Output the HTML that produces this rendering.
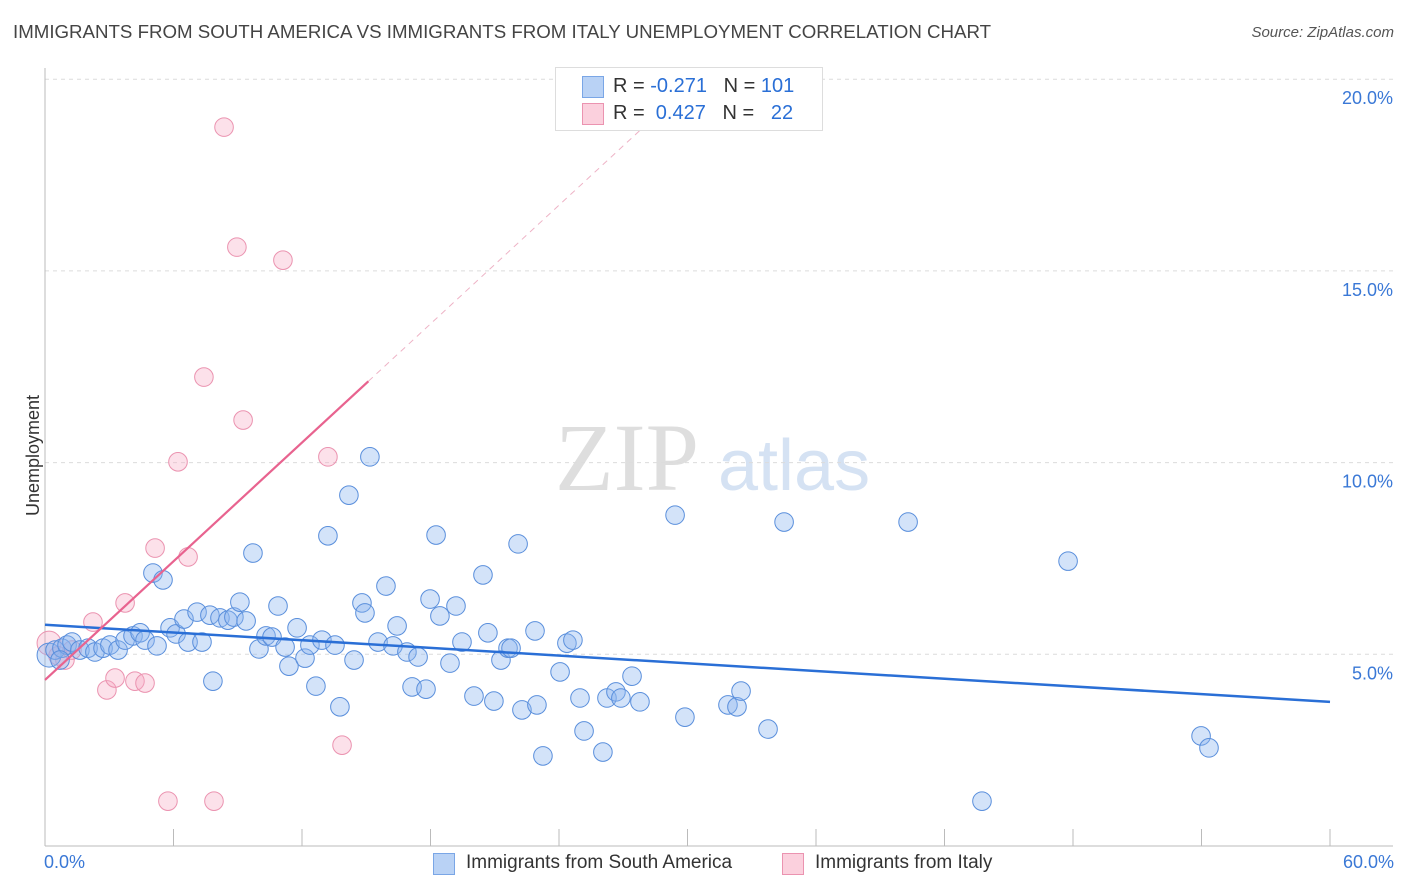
<!DOCTYPE html>
<html><head><meta charset="utf-8"><style>
body{margin:0;background:#fff;font-family:"Liberation Sans",sans-serif;}
#wrap{position:relative;width:1406px;height:892px;overflow:hidden;}
.t{position:absolute;white-space:nowrap;}
</style></head><body>
<div id="wrap">
<div class="t" style="left:13px;top:21px;font-size:18.7px;color:#444;">IMMIGRANTS FROM SOUTH AMERICA VS IMMIGRANTS FROM ITALY UNEMPLOYMENT CORRELATION CHART</div>
<div class="t" style="right:12px;top:24px;font-size:15px;color:#555;font-style:italic;">Source: ZipAtlas.com</div>
<svg id="plot" width="1406" height="892" style="position:absolute;left:0;top:0"></svg>
</div>
<script>
const blueX=[0.19,0.47,0.79,1.03,1.26,0.70,1.63,2.01,2.33,2.71,3.03,3.41,3.74,4.11,4.44,4.67,5.04,5.51,5.23,5.84,6.12,6.49,6.68,7.10,7.33,7.70,8.17,8.54,8.82,9.10,9.39,9.71,7.84,9.99,10.32,10.60,10.88,11.21,11.39,11.77,12.14,12.37,12.65,12.93,13.21,13.54,13.77,14.19,14.43,14.80,14.94,15.17,15.55,15.92,16.25,16.44,16.90,17.14,17.42,17.79,17.98,18.26,18.44,18.91,19.19,19.47,20.03,20.45,20.68,20.96,21.29,21.62,21.76,22.09,22.27,22.88,22.97,23.25,24.05,24.37,24.65,24.98,25.17,26.05,26.24,26.66,26.89,27.41,27.78,29.42,29.88,31.89,32.31,32.50,33.76,34.51,40.30,43.75,47.77,53.98,54.35];
const blueY=[4.98,5.11,5.16,5.24,5.32,4.85,5.11,5.16,5.06,5.16,5.24,5.11,5.37,5.48,5.56,5.37,7.12,6.94,5.22,5.69,5.53,5.92,5.32,6.10,5.32,6.02,5.95,5.89,5.97,6.36,5.87,7.64,4.30,5.14,5.48,5.45,6.26,5.19,4.69,5.69,4.90,5.24,4.17,5.37,8.09,5.24,3.63,9.15,4.85,6.34,6.08,10.15,5.32,6.78,5.22,5.74,5.06,4.15,4.93,4.09,6.44,8.11,6.00,4.77,6.26,5.32,3.91,7.07,5.56,3.78,4.85,5.16,5.16,7.88,3.55,5.61,3.68,2.35,4.54,5.29,5.37,3.86,3.00,2.45,3.86,4.02,3.86,4.43,3.76,8.63,3.36,3.68,3.63,4.04,3.05,8.45,8.45,1.17,7.43,2.87,2.56];
const pinkX=[0.19,0.61,0.93,1.26,2.24,2.89,3.27,3.74,4.20,4.67,5.14,5.74,6.21,6.68,7.42,7.89,8.36,8.96,9.25,11.11,13.21,13.87];
const pinkY=[5.29,4.96,4.85,5.11,5.84,4.07,4.38,6.34,4.30,4.25,7.77,1.17,10.02,7.54,12.23,1.17,18.75,15.62,11.11,15.28,10.15,2.63];
const blueTrend=[5.77,3.76]; // y at x=0 and x=60
const pinkTrend=[4.33,0.516]; // intercept, slope
const yTicks=[5,10,15,20];
const yTickLabels=["5.0%","10.0%","15.0%","20.0%"];
const xTicks=[0,6,12,18,24,30,36,42,48,54,60];

const X0=45,X1=1330,Y0=846,PX=191.7/5;
const sx=v=>X0+(X1-X0)*v/60;
const sy=v=>Y0-v*PX;
const svg=document.getElementById('plot');
const NS='http://www.w3.org/2000/svg';
function mk(tag,attrs,parent){const e=document.createElementNS(NS,tag);for(const k in attrs)e.setAttribute(k,attrs[k]);(parent||svg).appendChild(e);return e;}

let wm=mk('text',{x:555,y:490,'font-size':96,'font-family':'Liberation Serif,serif',fill:'#dedede'});wm.textContent='ZIP';


let wm2=mk('text',{x:718,y:490,'font-size':72,'font-family':'Liberation Sans,sans-serif',fill:'#d5e2f3'});wm2.textContent='atlas';



yTicks.forEach((t,i)=>{
 const g=mk('line',{x1:X0,x2:1393,y1:sy(t),y2:sy(t),stroke:'#dcdcdc','stroke-dasharray':'4,4'});
 
 
 const l=mk('text',{x:1393,y:sy(t)+25,'text-anchor':'end','font-size':18,fill:'#3a78d6','font-family':'Liberation Sans,sans-serif'});
 l.textContent=yTickLabels[i];
 
 
});
let ax=mk('line',{x1:X0,x2:X0,y1:68,y2:Y0,stroke:'#bbb'});


let bx=mk('line',{x1:X0,x2:1393,y1:Y0,y2:Y0,stroke:'#bbb'});


xTicks.forEach(t=>{
 const tk=mk('line',{x1:sx(t),x2:sx(t),y1:Y0,y2:Y0-17,stroke:'#bbb'});
 
 
});

function pts(xs,ys,fill,stroke,name){
 xs.forEach((x,i)=>{
  const c=mk('circle',{cx:sx(x),cy:sy(ys[i]),r:(i===0?12:9.3),fill:fill,stroke:stroke,'stroke-width':1});
  
  
 });
}
pts(pinkX,pinkY,'rgba(246,170,195,0.35)','#eb93b0','italy-point');
pts(blueX,blueY,'rgba(140,182,240,0.38)','#5a8fdc','south-america-point');

let bt=mk('line',{x1:sx(0),y1:sy(blueTrend[0]),x2:sx(60),y2:sy(blueTrend[1]),stroke:'#2a6fd6','stroke-width':2.5});


const pEnd=15.1,pDash=28.2;
let pt=mk('line',{x1:sx(0),y1:sy(pinkTrend[0]),x2:sx(pEnd),y2:sy(pinkTrend[0]+pinkTrend[1]*pEnd),stroke:'#e8638f','stroke-width':2.2});


let pd=mk('line',{x1:sx(pEnd),y1:sy(pinkTrend[0]+pinkTrend[1]*pEnd),x2:sx(pDash),y2:sy(pinkTrend[0]+pinkTrend[1]*pDash),stroke:'#eeb3c6','stroke-width':1,'stroke-dasharray':'6,5'});


</script>
<div class="t" style="left:44px;top:852px;font-size:18px;color:#3a78d6;">0.0%</div>
<div class="t" style="right:12px;top:852px;font-size:18px;color:#3a78d6;">60.0%</div>
<div class="t" style="left:-27px;top:445px;font-size:18px;color:#333;transform:rotate(-90deg);">Unemployment</div>
<div style="position:absolute;left:555px;top:67px;width:266px;height:62px;border:1px solid #ddd;background:#fff;font-size:20px;">
 <div style="position:absolute;left:26px;top:8px;width:20px;height:20px;background:#b9d2f5;border:1px solid #7aa6e6;"></div>
 <div class="t" style="left:57px;top:7px;color:#333;">R = <span style="color:#2a6fd6">-0.271</span>&nbsp;&nbsp;&nbsp;N = <span style="color:#2a6fd6">101</span></div>
 <div style="position:absolute;left:26px;top:35px;width:20px;height:20px;background:#fbd0dd;border:1px solid #eb93b0;"></div>
 <div class="t" style="left:57px;top:34px;color:#333;">R = &nbsp;<span style="color:#2a6fd6">0.427</span>&nbsp;&nbsp;&nbsp;N = &nbsp;&nbsp;<span style="color:#2a6fd6">22</span></div>
</div>
<div style="position:absolute;left:433px;top:852px;font-size:19px;color:#333;">
 <div style="position:absolute;left:0;top:0;width:330px;">
  <div style="position:absolute;left:0;top:1px;width:20px;height:20px;background:#b9d2f5;border:1px solid #7aa6e6;"></div>
  <div class="t" style="left:33px;top:0;">Immigrants from South America</div></div>
 <div style="position:absolute;left:349px;top:0;width:240px;">
  <div style="position:absolute;left:0;top:1px;width:20px;height:20px;background:#fbd0dd;border:1px solid #eb93b0;"></div>
  <div class="t" style="left:33px;top:0;">Immigrants from Italy</div></div>
</div>
</body></html>
